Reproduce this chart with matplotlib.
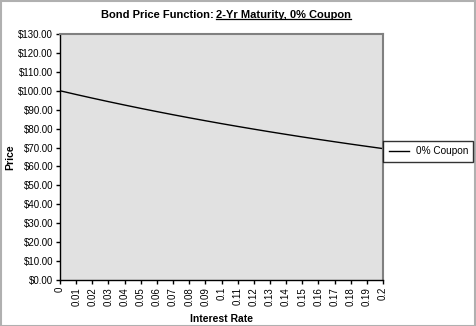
import matplotlib.pyplot as plt
from matplotlib.patches import Rectangle
from matplotlib.lines import Line2D

plt.rcParams['font.family'] = ['Liberation Sans', 'DejaVu Sans']

# data
rates = ["0", "0.01", "0.02", "0.03", "0.04", "0.05", "0.06", "0.07", "0.08",
         "0.09", "0.1", "0.11", "0.12", "0.13", "0.14", "0.15", "0.16", "0.17",
         "0.18", "0.19", "0.2"]
prices = [100.00, 98.03, 96.12, 94.26, 92.46, 90.70, 89.00, 87.34, 85.73,
          84.17, 82.64, 81.16, 79.72, 78.31, 76.95, 75.61, 74.32, 73.06,
          71.82, 70.62, 69.44]
y_ticks = list(range(0, 131, 10))

W, H = 476, 326
fig = plt.figure(figsize=(W / 100, H / 100), dpi=100)
fig.patch.set_facecolor("white")

# outer chart border
fig.patches.append(Rectangle((0.5 / W, 0.5 / H), 1 - 1.5 / W, 1 - 1.5 / H,
                             transform=fig.transFigure, fill=False,
                             edgecolor="#b0b0b0", linewidth=1.5))

left, right, top, bottom = 60, 383, 34, 280
ax = fig.add_axes([left / W, 1 - bottom / H, (right - left) / W, (bottom - top) / H])
ax.set_facecolor("#e1e1e1")

x = list(range(len(rates)))
line, = ax.plot(x, prices, color="black", linewidth=1, label="0% Coupon")

ax.set_xlim(0, len(rates) - 1)
ax.set_ylim(0, 130)
ax.set_xticks(x)
ax.set_xticklabels(rates, rotation=90, fontsize=7)
ax.set_yticks(y_ticks)
ax.set_yticklabels([f"${v:.2f}" for v in y_ticks], fontsize=7)
ax.tick_params(direction="out", length=3, width=1, pad=2, color="black")

for s in ["left", "bottom"]:
    ax.spines[s].set_color("black")
    ax.spines[s].set_linewidth(1)
for s in ["top", "right"]:
    ax.spines[s].set_color("#808080")
    ax.spines[s].set_linewidth(1.5)

ax.set_xlabel("Interest Rate", fontsize=7.5, fontweight="bold", labelpad=6)
fig.text(10 / W, 1 - 157 / H, "Price", rotation=90, fontsize=7.5,
         fontweight="bold", ha="center", va="center")

# title: plain part + underlined part, centred near x=226px
cx = 226
t1 = fig.text(cx / W, 1 - 15 / H, "Bond Price Function: ", fontsize=8,
              fontweight="bold", ha="right", va="center")
t2 = fig.text(cx / W, 1 - 15 / H, "2-Yr Maturity, 0% Coupon", fontsize=8,
              fontweight="bold", ha="left", va="center")
fig.canvas.draw()
r = fig.canvas.get_renderer()
b1 = t1.get_window_extent(r)
b2 = t2.get_window_extent(r)
shift = (b1.width + b2.width) / 2 - b1.width
x0 = (cx - shift) / W
t1.set_x(x0)
t2.set_x(x0)
x1 = x0 + b2.width / W
uy = (b2.y0 + 1.5) / H
fig.lines.append(Line2D([x0, x1], [uy, uy], transform=fig.transFigure,
                        color="black", linewidth=0.9))

leg = fig.legend(handles=[line], loc="center left",
                 bbox_to_anchor=(383 / W, 1 - 151 / H), fontsize=7.2,
                 frameon=True, fancybox=False, edgecolor="black",
                 handlelength=2.0, borderpad=0.55, handletextpad=0.7,
                 borderaxespad=0)
leg.get_frame().set_linewidth(1)

fig.savefig("out.png", dpi=100)
